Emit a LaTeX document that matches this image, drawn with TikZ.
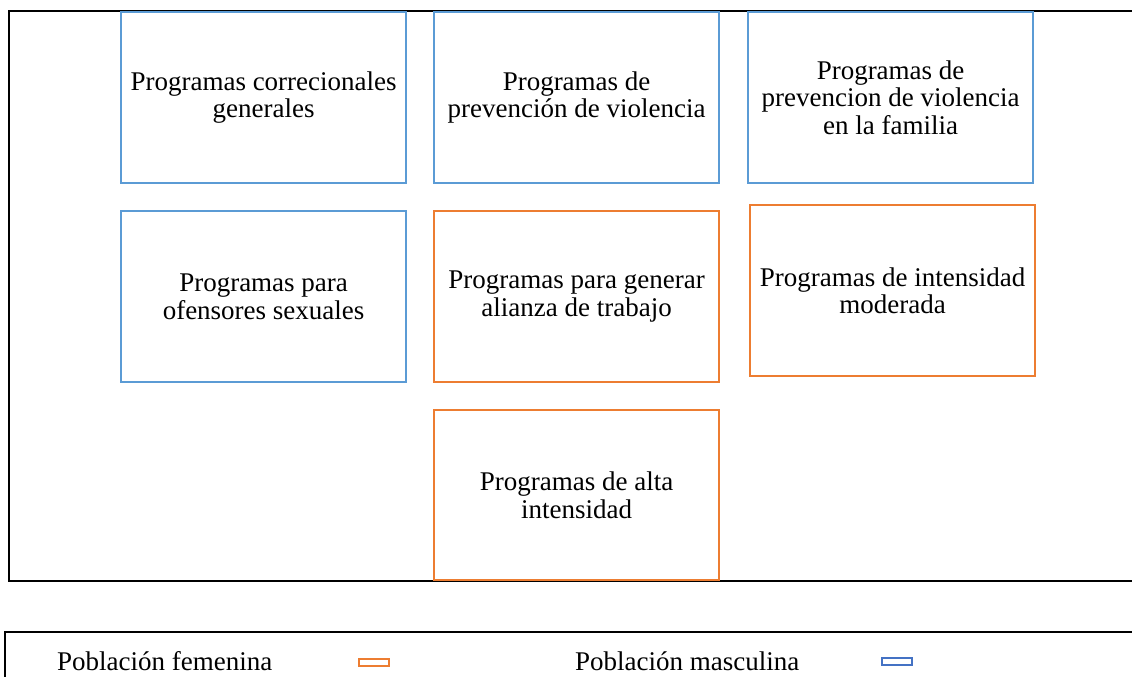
\documentclass[tikz,border=0pt]{standalone}
\usepackage{fontspec}
\setmainfont{Liberation Serif}
\definecolor{mblue}{HTML}{5B9BD5}
\definecolor{morange}{HTML}{ED7D31}
\definecolor{lblue}{HTML}{4472C4}
\begin{document}
\begin{tikzpicture}[x=1pt,y=-1pt,
  progbox/.style={draw, line width=2.2pt, minimum width=285pt, minimum height=171pt, inner sep=0pt, align=center, font=\fontsize{27}{27.5}\selectfont, anchor=north west},
  fem/.style={progbox, draw=morange},
  mas/.style={progbox, draw=mblue},
  legtext/.style={anchor=base west, inner sep=0pt, font=\fontsize{27}{27.5}\selectfont},
  legmark/.style={draw, line width=2pt, minimum width=30pt, minimum height=7pt, inner sep=0pt},
  frame/.style={line width=2pt, black}]
\useasboundingbox (0,0) rectangle (1132,677);
% outer frame
\coordinate (ftr) at (1133,11);
\coordinate (ftl) at (9,11);
\coordinate (fbl) at (9,581);
\coordinate (fbr) at (1133,581);
\draw[frame] (ftr) -- (ftl) -- (fbl) -- (fbr);
% boxes
\node[mas] (b1) at (120,11) {Programas correcionales\\generales};
\node[mas] (b2) at (433,11) {Programas de\\prevención de violencia};
\node[mas] (b3) at (747,11) {Programas de\\prevencion de violencia\\en la familia};
\node[mas] (b4) at (120,210) {Programas para\\ofensores sexuales};
\node[fem] (b5) at (433,210) {Programas para generar\\alianza de trabajo};
\node[fem] (b6) at (749,204) {Programas de intensidad\\moderada};
\node[fem, minimum height=170pt] (b7) at (433,409) {Programas de alta\\intensidad};
% legend frame
\coordinate (ltr) at (1133,632);
\coordinate (ltl) at (5,632);
\coordinate (lbl) at (5,678);
\draw[frame] (ltr) -- (ltl) -- (lbl);
\node[legtext] (lf) at (57,670) {Población femenina};
\node[legmark, draw=morange] (mf) at (374,662) {};
\node[legtext] (lm) at (575,670) {Población masculina};
\node[legmark, draw=lblue] (mm) at (897,661) {};
\end{tikzpicture}
\end{document}
